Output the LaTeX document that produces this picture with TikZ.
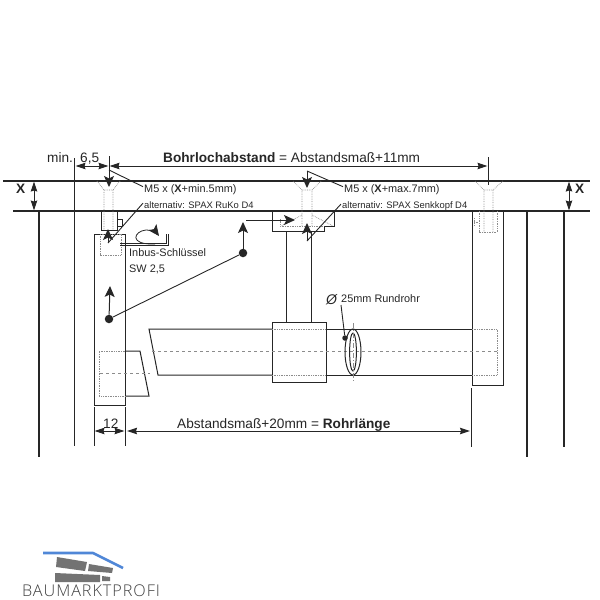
\documentclass[tikz,border=0pt]{standalone}
\usepackage{fontspec}
\setmainfont{Liberation Sans}
\newfontfamily\logofont{Open Sans Light}[LetterSpace=6]
\usetikzlibrary{arrows.meta}
\definecolor{ink}{gray}{0.15}
\definecolor{hidden}{gray}{0.55}
\definecolor{roof}{RGB}{80,135,215}
\definecolor{brick}{gray}{0.45}
\tikzset{
  part/.style={draw=ink, line width=1pt},
  wall/.style={draw=ink, line width=1.4pt},
  hiddenline/.style={draw=hidden, line width=0.7pt, densely dotted},
  axisline/.style={draw=hidden, line width=0.7pt, dashed},
  tip/.style={arrows={-{Stealth[length=11pt, width=10pt, inset=2.5pt]}}, draw=ink, line width=1pt},
  tiptwo/.style={arrows={{Stealth[length=10pt, width=6.5pt, inset=1pt]}-{Stealth[length=10pt, width=6.5pt, inset=1pt]}}, draw=ink, line width=1pt},
  leader/.style={draw=ink, line width=0.9pt},
  dot/.style={circle, fill=ink, inner sep=0pt, minimum size=8.5pt},
  bigtext/.style={inner sep=0pt, anchor=base west, font=\fontsize{13.65}{15}\selectfont, text=ink},
  midtext/.style={inner sep=0pt, anchor=base west, font=\fontsize{10.9}{13}\selectfont, text=ink},
  smalltext/.style={inner sep=0pt, anchor=base west, font=\fontsize{9.4}{11}\selectfont, text=ink}
}

\begin{document}
\begin{tikzpicture}[x=1pt, y=-1pt]
  \useasboundingbox (0, 0) rectangle (600, 600);

  % Draw ceiling and floor of the profile.
  \draw [wall] (3, 181) -- (590, 181);
  \draw [wall] (13, 211) -- (590, 211);
  \foreach \x/\yend in {39/457, 74.5/446, 527/457, 564/447} {
    \draw [wall] (\x, 211) -- (\x, \yend);
  }

  % Draw left holder.
  \draw [part] (94, 234) rectangle (125, 405);
  \draw [part] (101, 211) rectangle (117, 230);
  \draw [part] (117, 219) rectangle (122, 226);
  \draw [hiddenline] (100, 234) rectangle (121, 255);
  \draw [hiddenline] (97, 181) -- (104, 190) -- (104, 230) (120, 181) -- (113, 190) -- (113, 230) (104, 190) -- (113, 190);

  % Draw centre holder.
  \draw [part] (272, 211) -- (272, 231) -- (324, 231) -- (324, 226) -- (334, 226) -- (334, 211);
  \draw [part] (286, 231) -- (286, 322) (311, 231) -- (311, 322);
  \draw [hiddenline] (293, 181) -- (302, 190) -- (302, 226) (321, 181) -- (312, 190) -- (312, 226) (302, 190) -- (312, 190);
  \draw [hiddenline] (280, 219) -- (280, 226) -- (324, 226);
  \draw [hiddenline] (302, 215) -- (281, 226) (312, 215) -- (333, 226);

  % Draw right holder.
  \draw [part] (472, 211) -- (472, 385) -- (503, 385) -- (503, 211);
  \draw [hiddenline] (475, 181) -- (484, 190) -- (484, 232) (503, 181) -- (493, 190) -- (493, 232) (484, 190) -- (493, 190);
  \draw [hiddenline] (479, 211) -- (479, 232) -- (497, 232) -- (497, 211);
  \draw [hiddenline] (474, 218) -- (474, 226) (474, 222) -- (479, 222);

  % Draw tube with sleeve.
  \draw [part] (272, 329) -- (149, 329) -- (158, 375) -- (272, 375);
  \draw [part] (326, 329) -- (472, 329) (326, 375) -- (472, 375);
  \draw [part] (272, 322) rectangle (326, 382);
  \draw [hiddenline] (272, 329) -- (326, 329) (272, 375) -- (326, 375);
  \draw [hiddenline] (472, 329) -- (497, 329) -- (497, 375) -- (472, 375);
  \draw [axisline] (152, 351) -- (497, 351);

  % Draw plug in left holder.
  \draw [part] (125, 351) -- (140, 351) -- (149, 396) -- (125, 396);
  \draw [hiddenline] (125, 351) -- (99, 351) -- (99, 396) -- (125, 396);
  \draw [axisline] (100, 373) -- (150, 373);

  % Draw tube section.
  \draw [part] (353, 352) ellipse (8 and 23);
  \draw [part] (353, 352) ellipse (3.4 and 19);
  \draw [draw=hidden, line width=0.6pt, dash pattern=on 5pt off 2pt on 1pt off 2pt] (353, 323) -- (353, 381);

  % Draw x dimensions.
  \node (xleft) [bigtext, font=\fontsize{13.65}{15}\selectfont\bfseries] at (16, 193) {X};
  \node (xright) [bigtext, font=\fontsize{13.65}{15}\selectfont\bfseries] at (575, 193) {X};
  \coordinate (xlefttop) at (34, 181.5);
  \coordinate (xleftlow) at (34, 210.5);
  \coordinate (xrighttop) at (569, 181.5);
  \coordinate (xrightlow) at (569, 210.5);
  \draw [tiptwo] (xlefttop) -- (xleftlow);
  \draw [tiptwo] (xrighttop) -- (xrightlow);

  % Draw top dimensions.
  \node (minlabel) [bigtext] at (47, 162) {min.};
  \node (sixlabel) [bigtext] at (80, 162) {6,5};
  \node (bohrlabel) [bigtext] at (163, 162) {\textbf{Bohrlochabstand} = Abstandsmaß+11mm};
  \coordinate (walltop) at (74.5, 158);
  \coordinate (holeleft) at (109, 156);
  \coordinate (holeright) at (488, 157);
  \draw [part] (walltop) -- (74.5, 211);
  \draw [part] (holeleft) -- (109, 181);
  \draw [part] (holeright) -- (488, 185);
  \draw [tiptwo] (75.5, 166) -- (108.5, 166);
  \draw [tiptwo] (109.5, 166) -- (487.5, 166);

  % Draw bottom dimensions.
  \node (twelvelabel) [bigtext] at (103, 428) {12};
  \node (rohrlabel) [bigtext] at (177, 428) {Abstandsmaß+20mm = \textbf{Rohrlänge}};
  \draw [part] (94, 407) -- (94, 446);
  \draw [part] (125, 407) -- (125, 446);
  \draw [part] (471, 388) -- (471, 447);
  \draw [tiptwo] (94.5, 431) -- (124.5, 431);
  \draw [tiptwo] (127, 431) -- (470, 431);

  % Draw screw labels with leaders.
  \node (screwmin) [midtext] at (144, 192.5) {M5 x (\textbf{X}+min.5mm)};
  \node (screwmax) [midtext] at (344, 192.5) {M5 x (\textbf{X}+max.7mm)};
  \node (altruko) [smalltext] at (144, 208.5) {alternativ: SPAX RuKo D4};
  \node (altsenk) [smalltext] at (342, 208.5) {alternativ: SPAX Senkkopf D4};
  \coordinate (bendmin) at (109, 170);
  \coordinate (tipmin) at (109, 187);
  \coordinate (bendmax) at (307, 171);
  \coordinate (tipmax) at (307, 188);
  \coordinate (bendruko) at (108, 243);
  \coordinate (tipruko) at (108, 229);
  \coordinate (bendsenk) at (307, 241);
  \coordinate (tipsenk) at (307, 223);
  \draw [leader] (screwmin.west) ++(-1, -3) -- (bendmin);
  \draw [leader] (screwmax.west) ++(-1, -3) -- (bendmax);
  \draw [leader] (altruko.west) ++(-1, -2) -- (bendruko);
  \draw [leader] (altsenk.west) ++(-1, -2) -- (bendsenk);
  \draw [tip] (bendmin) -- (tipmin);
  \draw [tip] (bendmax) -- (tipmax);
  \draw [tip] (bendruko) -- (tipruko);
  \draw [tip] (bendsenk) -- (tipsenk);

  % Draw hex key.
  \node (keyname) [midtext] at (129, 256) {Inbus-Schlüssel};
  \node (keysize) [midtext] at (129, 272) {SW 2,5};
  \draw [part, line width=0.8pt] (120, 243) -- (166, 243) -- (166, 234) (120, 245.5) -- (168.5, 245.5) -- (168.5, 234);
  \draw [tip, line width=0.8pt] (155, 244) .. controls (128, 245) and (134, 231) .. (146, 230) .. controls (151, 230) and (156, 232) .. (159, 236);

  % Draw assembly order.
  \node (dotlow) [dot] at (109, 319) {};
  \node (dothigh) [dot] at (243, 253) {};
  \coordinate (stepone) at (110, 286);
  \coordinate (steptwo) at (243, 222);
  \coordinate (stepthreea) at (246, 220);
  \coordinate (stepthreeb) at (295, 220);
  \draw [leader] (dotlow) -- (dothigh);
  \draw [tip] (dotlow) -- (stepone);
  \draw [tip] (dothigh) -- (steptwo);
  \draw [tip] (stepthreea) -- (stepthreeb);

  % Draw tube label.
  \node (phi) [inner sep=0pt, anchor=base west, text=ink, font=\fontsize{14}{15}\selectfont\itshape] at (326, 304) {Ø};
  \node (tubelabel) [midtext] at (341, 302.5) {25mm Rundrohr};
  \node (tubedot) [dot, minimum size=5.5pt] at (345, 338) {};
  \draw [leader] (341, 305) -- (tubedot);

  % Draw logo.
  \draw [draw=roof, line width=2.6pt, line join=round] (43, 553) -- (93, 553) -- (123, 568);
  \fill [brick] (57, 557) -- (87, 562) -- (85, 571) -- (56, 567) -- cycle;
  \fill [brick] (89, 564) -- (113, 568) -- (112, 573) -- (88, 571) -- cycle;
  \fill [brick] (55, 573) -- (100, 575) -- (100, 582) -- (55, 582) -- cycle;
  \fill [brick] (102, 576) -- (110, 577) -- (110, 581) -- (102, 581) -- cycle;
  \node (logotext) [inner sep=0pt, anchor=base west, text=black!75, font=\logofont\fontsize{16.2}{17}\selectfont] at (22, 596.5) {BAUMARKTPROFI};
\end{tikzpicture}
\end{document}
